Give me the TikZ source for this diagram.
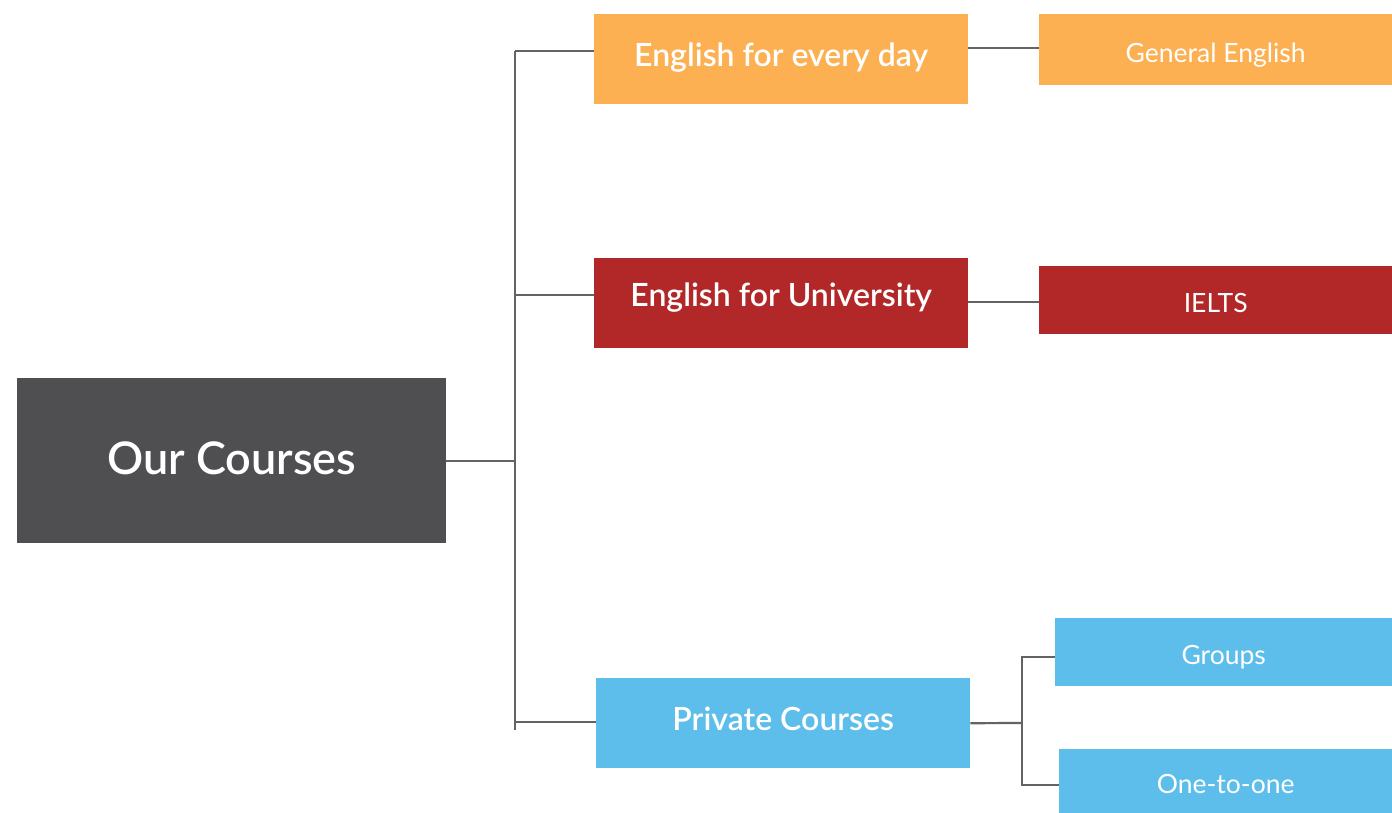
\documentclass[tikz,border=0pt]{standalone}
\usepackage{fontspec}
\setmainfont{Lato}
\newfontfamily\headfont{Lato Semibold}
\definecolor{rootgray}{HTML}{4F4F51}
\definecolor{dayorange}{HTML}{FCB052}
\definecolor{unired}{HTML}{B22828}
\definecolor{privblue}{HTML}{5DBEEB}
\definecolor{linkgray}{HTML}{636363}
\tikzset{
  box/.style={rectangle, inner sep=0pt, anchor=north west, text=white},
  lift/.style={text height=#1, text depth=0pt},
  rootbox/.style={box, fill=rootgray, font=\headfont\fontsize{45}{48}\selectfont},
  headbox/.style={box, font=\headfont\fontsize{32}{34}\selectfont},
  leafbox/.style={box, font=\fontsize{26.5}{28}\selectfont, lift=25pt},
  link/.style={draw=linkgray, line width=2.2pt},
}
\begin{document}
\begin{tikzpicture}[x=1pt,y=-1pt]
    \useasboundingbox (0,0) rectangle (1392,813);
    % root
    \node[rootbox, lift=28pt, minimum width=429, minimum height=165] (root) at (17,378) {Our Courses};
    % first level
    \node[headbox, lift=15pt, fill=dayorange, minimum width=374, minimum height=90] (everyday) at (594,14) {English for every day};
    \node[headbox, lift=6pt, fill=unired, minimum width=374, minimum height=90] (university) at (594,258) {English for University};
    \node[headbox, lift=15pt, fill=privblue, minimum width=374, minimum height=90] (private) at (596,678) {Private Courses};
    % leaves
    \node[leafbox, fill=dayorange, minimum width=353, minimum height=71] (general) at (1039,14) {General English};
    \node[leafbox, fill=unired, minimum width=353, minimum height=68] (ielts) at (1039,266) {IELTS};
    \node[leafbox, fill=privblue, minimum width=337, minimum height=68] (groups) at (1055,618) {Groups};
    \node[leafbox, fill=privblue, minimum width=333, minimum height=64] (onetoone) at (1059,749) {One-to-one};
    % trunk
    \coordinate (jA) at (515,51);
    \coordinate (jB) at (515,295);
    \coordinate (jC) at (515,722);
    \coordinate (jEnd) at (515,730);
    \draw[link] (jA) -- (jEnd);
    \draw[link] (root.east) -- (root.east -| jA);
    \draw[link] (jA) -- (jA -| everyday.west);
    \draw[link] (jB) -- (jB -| university.west);
    \draw[link] (jC) -- (jC -| private.west);
    % leaves links
    \draw[link] ([yshift=1.5pt]everyday.east |- general.west) -- ([yshift=1.5pt]general.west);
    \draw[link] ([yshift=-2pt]university.east |- ielts.west) -- ([yshift=-2pt]ielts.west);
    \coordinate (jD) at (1022,723);
    \draw[link] (private.east) -- (jD);
    \draw[link] ([yshift=-5pt]groups.west) -- ++(-33,0) |- ([yshift=-4pt]onetoone.west);
\end{tikzpicture}
\end{document}
